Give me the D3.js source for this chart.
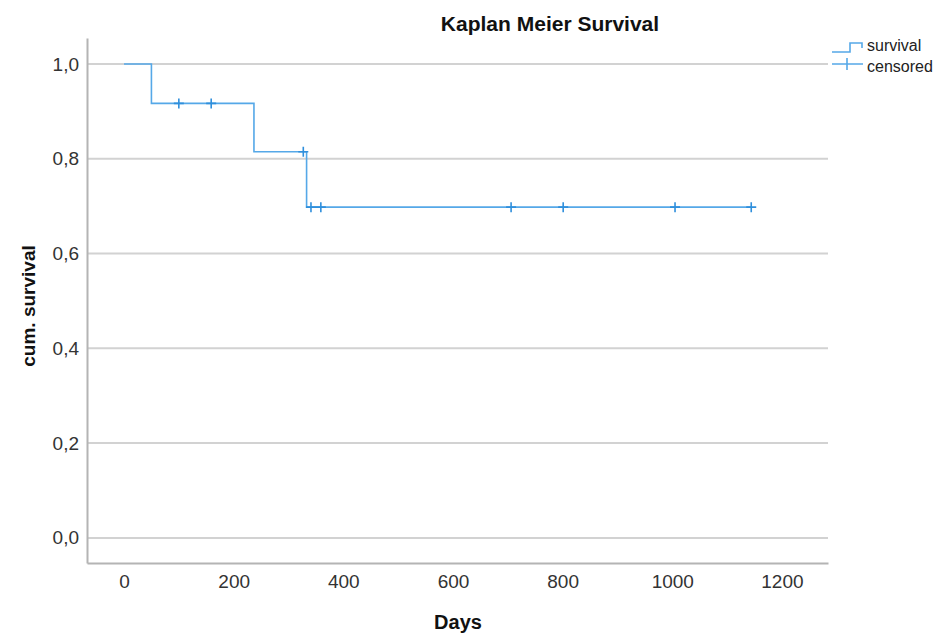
<!DOCTYPE html>
<html>
<head>
<meta charset="utf-8">
<script src="https://cdn.jsdelivr.net/npm/d3@7"></script>
<style>
  body { margin: 0; background: #fff; }
  text { font-family: "Liberation Sans", Arial, sans-serif; }
</style>
</head>
<body>
<div id="chart-area"></div>
<script>
// step points of the survival curve (day where it starts, survival value)
const stepDays = [0, 50, 237, 333];
const stepSurv = [1.0, 0.917, 0.815, 0.698];
const lastDay = 1144;

// censored observations
const censorDays = [100, 159, 327, 341, 359, 706, 801, 1005, 1144];
const censorSurv = [0.917, 0.917, 0.815, 0.698, 0.698, 0.698, 0.698, 0.698, 0.698];

const xTicks = [0, 200, 400, 600, 800, 1000, 1200];
const yTicks = [0, 0.2, 0.4, 0.6, 0.8, 1.0];

const W = 936, H = 634;
const margin = { left: 87, right: 108, top: 38, bottom: 71 };
const width = W - margin.left - margin.right;
const height = H - margin.top - margin.bottom;

const svg = d3.select("#chart-area").append("svg")
    .attr("width", W)
    .attr("height", H);

const g = svg.append("g")
    .attr("transform", `translate(${margin.left},${margin.top})`);

const x = d3.scaleLinear().domain([-67.5, 1284]).range([0, width]);
const y = d3.scaleLinear().domain([-0.053, 1.055]).range([height, 0]);

/* gridlines */
g.selectAll(".grid").data(yTicks).enter().append("line")
    .attr("x1", 0).attr("x2", width)
    .attr("y1", d => y(d)).attr("y2", d => y(d))
    .attr("stroke", "#d2d2d2").attr("stroke-width", 2);

/* axes */
const fmt = d => d3.format(".1f")(d).replace(".", ",");
const yAxis = g.append("g").call(d3.axisLeft(y).tickValues(yTicks).tickFormat(fmt).tickSize(0).tickPadding(8));
const xAxis = g.append("g").attr("transform", `translate(0,${height})`)
    .call(d3.axisBottom(x).tickValues(xTicks).tickFormat(d3.format("d")).tickSize(0).tickPadding(12));

[yAxis, xAxis].forEach(a => {
  a.select(".domain").attr("stroke", "#b4b4b4").attr("stroke-width", 2);
  a.selectAll("text").attr("fill", "#333").style("font-size", "19px")
      .style("font-family", "'Liberation Sans', Arial, sans-serif");
});

/* survival step line */
const pts = stepDays.map((d, i) => [d, stepSurv[i]]);
pts.push([lastDay, stepSurv[stepSurv.length - 1]]);
const line = d3.line().x(d => x(d[0])).y(d => y(d[1])).curve(d3.curveStepAfter);
g.append("path").datum(pts)
    .attr("d", line)
    .attr("fill", "none")
    .attr("stroke", "#55a8e8")
    .attr("stroke-width", 1.6);

/* censor marks */
const cs = 5;
g.selectAll(".censor").data(censorDays).enter().append("path")
    .attr("d", (d, i) => {
      const cx = x(d), cy = y(censorSurv[i]);
      return `M${cx - cs},${cy}H${cx + cs}M${cx},${cy - cs}V${cy + cs}`;
    })
    .attr("stroke", "#2f8fdc")
    .attr("stroke-width", 1.6)
    .attr("fill", "none");

/* titles */
svg.append("text").attr("x", 550).attr("y", 31).attr("text-anchor", "middle")
    .style("font-size", "21px").style("font-weight", "bold").attr("fill", "#111")
    .text("Kaplan Meier Survival");
svg.append("text").attr("x", 458).attr("y", 629).attr("text-anchor", "middle")
    .style("font-size", "20px").style("font-weight", "bold").attr("fill", "#111")
    .text("Days");
svg.append("text").attr("transform", "translate(35,306) rotate(-90)").attr("text-anchor", "middle")
    .style("font-size", "19px").style("font-weight", "bold").attr("fill", "#111")
    .text("cum. survival");

/* legend */
const lg = svg.append("g");
lg.append("path").attr("d", "M832,52H850V43H862V48")
    .attr("fill", "none").attr("stroke", "#55a8e8").attr("stroke-width", 1.6);
lg.append("path").attr("d", "M832,64H863M847,58V70")
    .attr("fill", "none").attr("stroke", "#55a8e8").attr("stroke-width", 1.6);
lg.append("text").attr("x", 867).attr("y", 51).style("font-size", "16px").attr("fill", "#222").text("survival");
lg.append("text").attr("x", 867).attr("y", 72).style("font-size", "16px").attr("fill", "#222").text("censored");
</script>
</body>
</html>
